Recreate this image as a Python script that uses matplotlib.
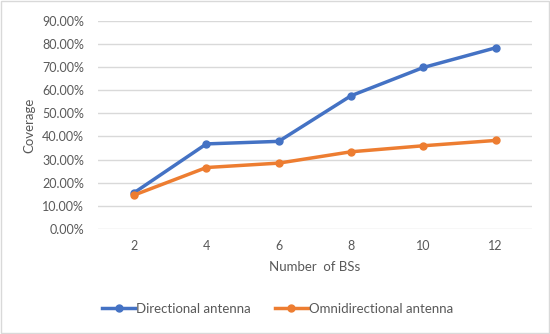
import matplotlib.pyplot as plt
from matplotlib.patches import Rectangle
from matplotlib.ticker import FuncFormatter, MultipleLocator

plt.rcParams['font.family'] = ['Lato', 'DejaVu Sans']

num_bs = [2, 4, 6, 8, 10, 12]
directional = [0.157, 0.368, 0.379, 0.576, 0.698, 0.783]
omni = [0.147, 0.266, 0.285, 0.334, 0.360, 0.383]

blue = '#4472C4'
orange = '#ED7D31'
grey = '#595959'

fig = plt.figure(figsize=(5.5, 3.34), dpi=100)
ax = fig.add_axes([0.178, 0.314, 0.789, 0.624])

ax.plot(num_bs, directional, color=blue, lw=2.5, marker='o', ms=5,
        label='Directional antenna')
ax.plot(num_bs, omni, color=orange, lw=2.5, marker='o', ms=5,
        label='Omnidirectional antenna')

ax.set_xlim(1, 13)
ax.set_ylim(0, 0.9)
ax.set_xticks(num_bs)
ax.yaxis.set_major_locator(MultipleLocator(0.1))
ax.yaxis.set_major_formatter(FuncFormatter(lambda v, p: '%.2f%%' % (v * 100)))
ax.grid(axis='y', color='#D9D9D9', lw=1)
ax.set_axisbelow(True)
for s in ax.spines.values():
    s.set_visible(False)
ax.tick_params(length=0, colors=grey, labelsize=9)
ax.tick_params(axis='x', pad=8)
ax.tick_params(axis='y', pad=10)

ax.set_xlabel('Number  of BSs', color=grey, fontsize=9.5, labelpad=6)
ax.set_ylabel('Coverage', color=grey, fontsize=9.5, labelpad=5)

fig.legend(loc='center', bbox_to_anchor=(0.505, 0.075), ncol=2, frameon=False,
           fontsize=9.5, labelcolor=grey, handlelength=2.5, columnspacing=1.8,
           handletextpad=0.1)

fig.patches.append(Rectangle((0.002, 0.003), 0.996, 0.994, transform=fig.transFigure,
                             fill=False, edgecolor='#D9D9D9', lw=1))

fig.savefig('out.png', dpi=100)
